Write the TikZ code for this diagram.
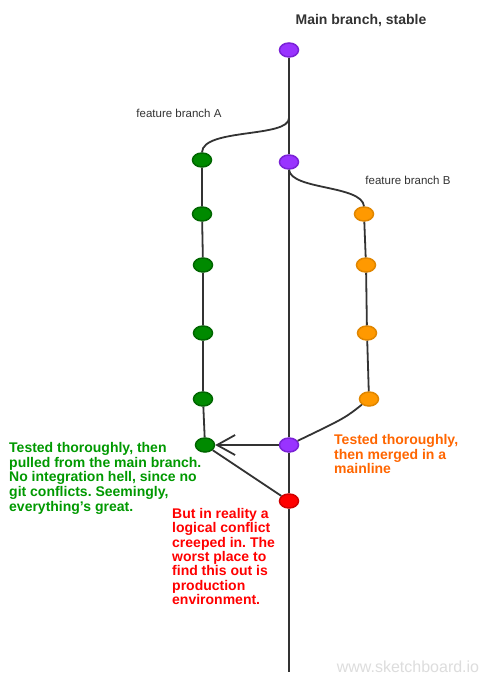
\documentclass[tikz,border=0pt]{standalone}
\usepackage{fontspec}
\setmainfont{Liberation Sans}
\usetikzlibrary{shapes.geometric,arrows.meta}
\definecolor{pfill}{HTML}{9933FF}
\definecolor{pline}{HTML}{7A22D6}
\definecolor{gfill}{HTML}{008A00}
\definecolor{gline}{HTML}{006600}
\definecolor{ofill}{HTML}{FF9900}
\definecolor{oline}{HTML}{E08600}
\definecolor{rfill}{HTML}{FF0000}
\definecolor{rline}{HTML}{D00000}
\definecolor{edge}{HTML}{333333}
\definecolor{gtext}{HTML}{009900}
\definecolor{otext}{HTML}{FF6600}
\definecolor{rtext}{HTML}{FF0000}
\definecolor{wm}{HTML}{DDDDDD}
\tikzset{
  commit/.style={ellipse,minimum width=19pt,minimum height=14pt,inner sep=0pt,line width=1.5pt},
  pc/.style={commit,fill=pfill,draw=pline},
  gc/.style={commit,fill=gfill,draw=gline},
  oc/.style={commit,fill=ofill,draw=oline},
  rc/.style={commit,fill=rfill,draw=rline},
  conn/.style={draw=edge,line width=1.8pt},
  note/.style={anchor=north west,align=left,inner sep=0pt,font=\fontsize{14pt}{14.8pt}\selectfont\bfseries\frenchspacing},
  lab/.style={inner sep=0pt,font=\fontsize{11.5pt}{13pt}\selectfont,text=edge}
}
\begin{document}
\begin{tikzpicture}[x=1pt,y=-1pt]
\useasboundingbox[fill=white] (0,0) rectangle (503,685);
% commits
\node[pc] (p1) at (289,50) {};
\node[pc] (p2) at (289,162) {};
\node[pc] (p3) at (289,445) {};
\node[rc] (r1) at (289,501) {};
\node[gc] (g1) at (202,160) {};
\node[gc] (g2) at (202,214) {};
\node[gc] (g3) at (203,265) {};
\node[gc] (g4) at (203,333) {};
\node[gc] (g5) at (203,399) {};
\node[gc] (g6) at (205,445) {};
\node[oc] (o1) at (364,214) {};
\node[oc] (o2) at (366,265) {};
\node[oc] (o3) at (367,333) {};
\node[oc] (o4) at (369,399) {};
\coordinate (brA) at (289,118);
\coordinate (mainend) at (289,672);
% main line
\draw[conn] (p1) -- (p2) -- (p3) -- (r1) -- (mainend);
% feature A
\draw[conn] (brA) .. controls (289,138) and (203,128) .. (g1.north);
\draw[conn] (g1) -- (g2) -- (g3) -- (g4) -- (g5) -- (g6);
% feature B
\draw[conn] (p2.south) .. controls (291,190) and (362,185) .. (o1.north);
\draw[conn] (o1) -- (o2) -- (o3) -- (o4);
\draw[conn] (o4) .. controls (345,418) .. (p3);
% pull and conflict
\draw[conn,-{Straight Barb[length=18pt,width=20pt,line width=1.8pt]}] (p3) -- (g6);
\draw[conn] (g6) -- (r1);
% labels
\node[font=\fontsize{14pt}{16pt}\selectfont\bfseries,text=edge,inner sep=0pt] (title) at (361,21) {Main branch, stable};
\node[lab] (labA) at (179,113) {feature branch A};
\node[lab] (labB) at (408,180) {feature branch B};
\node[note,text=gtext] (ntg) at (9,442) {Tested thoroughly, then\\pulled from the main branch.\\No integration hell, since no\\git conflicts. Seemingly,\\everything{\char"27}s great.};
\node[note,text=otext] (nto) at (334,434) {Tested thoroughly,\\then merged in a\\mainline};
\node[note,text=rtext,font=\fontsize{14pt}{14.4pt}\selectfont\bfseries\frenchspacing] (ntr) at (172,508) {But in reality a\\logical conflict\\creeped in. The\\worst place to\\find this out is\\production\\environment.};
\node[inner sep=0pt,font=\fontsize{16pt}{18pt}\selectfont,text=wm] (wmk) at (408,667) {www.sketchboard.io};
\end{tikzpicture}
\end{document}
